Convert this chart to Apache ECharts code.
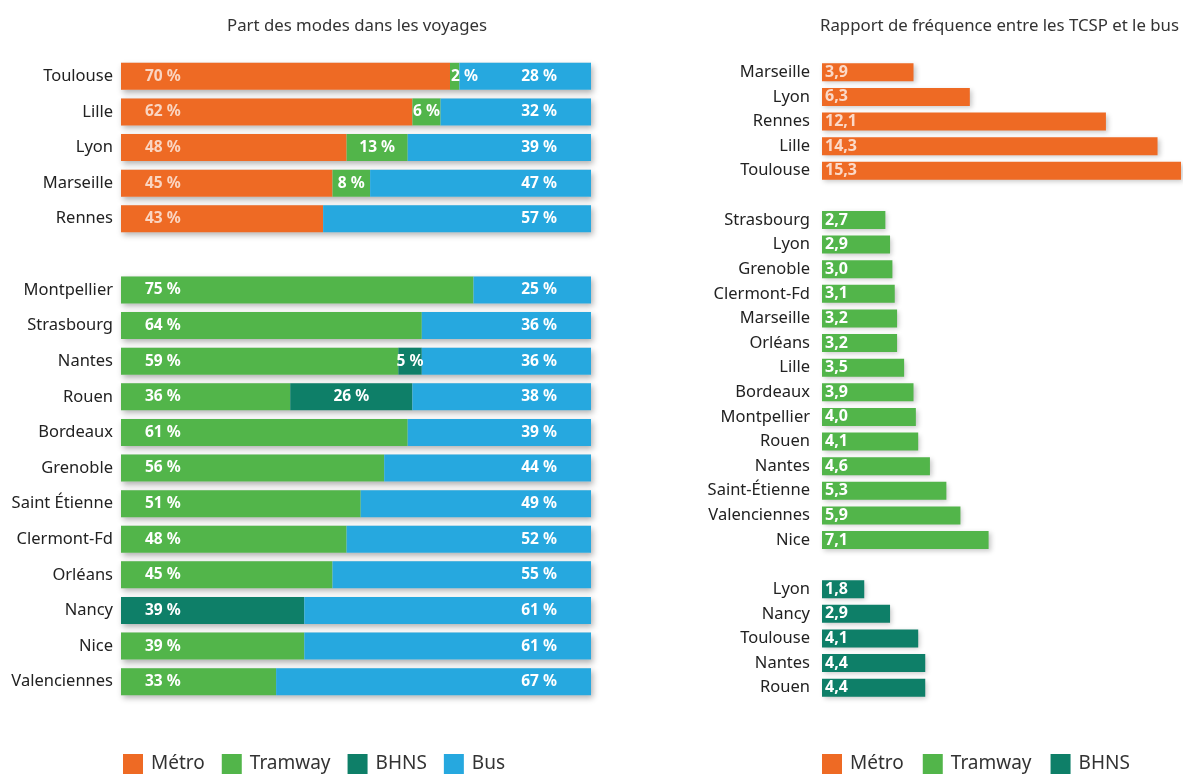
<!DOCTYPE html>
<html><head><meta charset="utf-8">
<script src="https://cdn.jsdelivr.net/npm/echarts@6/dist/echarts.min.js"></script>
<style>html,body{margin:0;padding:0;background:#fff}#c{width:1183px;height:774px}</style>
</head><body><div id="c"></div>
<script>
// ---- Left panel: share of modes in trips (%)
const leftCities = ['Toulouse','Lille','Lyon','Marseille','Rennes',' ','Montpellier','Strasbourg','Nantes','Rouen','Bordeaux','Grenoble','Saint Étienne','Clermont-Fd','Orléans','Nancy','Nice','Valenciennes'];
const shareMetro   = [70,62,48,45,43,null,null,null,null,null,null,null,null,null,null,null,null,null];
const shareTram    = [2,6,13,8,null,null,75,64,59,36,61,56,51,48,45,null,39,33];
const shareBhns    = [null,null,null,null,null,null,null,null,5,26,null,null,null,null,null,39,null,null];
const shareBus     = [28,32,39,47,57,null,25,36,36,38,39,44,49,52,55,61,61,67];

// ---- Right panel: frequency ratio TCSP / bus
const rightCities = ['Marseille','Lyon','Rennes','Lille','Toulouse',' ','Strasbourg','Lyon','Grenoble','Clermont-Fd','Marseille','Orléans','Lille','Bordeaux','Montpellier','Rouen','Nantes','Saint-Étienne','Valenciennes','Nice','  ','Lyon','Nancy','Toulouse','Nantes','Rouen'];
const freqMetro = [3.9,6.3,12.1,14.3,15.3,null,null,null,null,null,null,null,null,null,null,null,null,null,null,null,null,null,null,null,null,null];
const freqTram  = [null,null,null,null,null,null,2.7,2.9,3.0,3.1,3.2,3.2,3.5,3.9,4.0,4.1,4.6,5.3,5.9,7.1,null,null,null,null,null,null];
const freqBhns  = [null,null,null,null,null,null,null,null,null,null,null,null,null,null,null,null,null,null,null,null,null,1.8,2.9,4.1,4.4,4.4];

const legendLeft = ['Métro','Tramway','BHNS','Bus'];
const legendRight = ['Métro','Tramway','BHNS'];

const C = {metro:'#EE6A24', tram:'#52B54A', bhns:'#0E7F68', bus:'#26A8DF'};
const FONT = '"Noto Sans", "DejaVu Sans", sans-serif';

const pct = p => p.value + ' %';
const dec = p => p.value.toFixed(1).replace('.', ',');

const totals = shareBus.map((b,i) => b == null ? null : (shareMetro[i]||0)+(shareTram[i]||0)+(shareBhns[i]||0)+b);

const labelBase = {show:true, color:'#fff', fontWeight:'bold', fontSize:15.5, fontFamily:FONT};

function firstIdx(i){
  if (shareMetro[i] != null) return 'metro';
  if (shareTram[i] != null) return 'tram';
  return 'bhns';
}
function segData(arr, key){
  return arr.map((v,i) => {
    if (v == null) return null;
    const first = firstIdx(i) === key;
    let label;
    if (first) label = {position:'insideLeft', distance:24};
    else if (v < 4) label = {position:'insideLeft', distance:1};
    else label = {position:'inside'};
    return {value:v, label};
  });
}

const legendText = {fontSize:19, color:'#333', fontFamily:FONT, padding:[0,0,0,3]};

const option = {
  animation:false,
  backgroundColor:'#fff',
  title:[
    {text:'Part des modes dans les voyages', left:352, top:13, textAlign:'center',
     textStyle:{fontSize:16.8, fontWeight:'normal', color:'#333', fontFamily:FONT}},
    {text:'Rapport de fréquence entre les TCSP et le bus', left:815, top:13,
     textStyle:{fontSize:16.8, fontWeight:'normal', color:'#333', fontFamily:FONT}}
  ],
  legend:[
    {data:legendLeft, left:123, top:754, padding:0, itemWidth:20, itemHeight:20, itemGap:17, icon:'rect',
     textStyle:legendText},
    {data:legendRight, left:822, top:754, padding:0, itemWidth:20, itemHeight:20, itemGap:19, icon:'rect',
     textStyle:legendText}
  ],
  grid:[
    {left:121, width:470, top:58.5, height:641},
    {left:822, width:359, top:60, height:640}
  ],
  xAxis:[
    {type:'value', gridIndex:0, min:0, max:100, show:false},
    {type:'value', gridIndex:1, min:0, max:'dataMax', show:false}
  ],
  yAxis:[
    {type:'category', gridIndex:0, data:leftCities, inverse:true,
     axisLine:{show:false}, axisTick:{show:false},
     axisLabel:{margin:8, fontSize:16.5, color:'#222', fontFamily:FONT}},
    {type:'category', gridIndex:1, data:rightCities, inverse:true,
     axisLine:{show:false}, axisTick:{show:false},
     axisLabel:{margin:12, fontSize:16.5, color:'#222', fontFamily:FONT}}
  ],
  series:[
    {name:'shadow', type:'bar', xAxisIndex:0, yAxisIndex:0, data:totals, barWidth:27, barGap:'-100%',
     silent:true, z:1, itemStyle:{color:'#ddd', shadowBlur:6, shadowColor:'rgba(0,0,0,0.3)', shadowOffsetX:2, shadowOffsetY:3}},
    {name:'Métro', type:'bar', stack:'L', xAxisIndex:0, yAxisIndex:0, barWidth:27, z:2,
     data:segData(shareMetro,'metro'), itemStyle:{color:C.metro},
     label:Object.assign({}, labelBase, {formatter:pct, color:'rgba(255,255,255,0.72)'})},
    {name:'Tramway', type:'bar', stack:'L', xAxisIndex:0, yAxisIndex:0, barWidth:27, z:2,
     data:segData(shareTram,'tram'), itemStyle:{color:C.tram},
     label:Object.assign({}, labelBase, {formatter:pct})},
    {name:'BHNS', type:'bar', stack:'L', xAxisIndex:0, yAxisIndex:0, barWidth:27, z:2,
     data:segData(shareBhns,'bhns'), itemStyle:{color:C.bhns},
     label:Object.assign({}, labelBase, {formatter:pct})},
    {name:'Bus', type:'bar', stack:'L', xAxisIndex:0, yAxisIndex:0, barWidth:27, z:2,
     data:shareBus, itemStyle:{color:C.bus},
     label:Object.assign({}, labelBase, {formatter:pct, position:'insideRight', distance:34})},

    {name:'Métro', type:'bar', stack:'R', xAxisIndex:1, yAxisIndex:1, barWidth:18,
     data:freqMetro, itemStyle:{color:C.metro, shadowBlur:5, shadowColor:'rgba(0,0,0,0.22)', shadowOffsetX:2, shadowOffsetY:2},
     label:Object.assign({}, labelBase, {formatter:dec, position:'insideLeft', distance:3, fontSize:16, color:'rgba(255,255,255,0.75)'})},
    {name:'Tramway', type:'bar', stack:'R', xAxisIndex:1, yAxisIndex:1, barWidth:18,
     data:freqTram, itemStyle:{color:C.tram, shadowBlur:5, shadowColor:'rgba(0,0,0,0.22)', shadowOffsetX:2, shadowOffsetY:2},
     label:Object.assign({}, labelBase, {formatter:dec, position:'insideLeft', distance:3, fontSize:16})},
    {name:'BHNS', type:'bar', stack:'R', xAxisIndex:1, yAxisIndex:1, barWidth:18,
     data:freqBhns, itemStyle:{color:C.bhns, shadowBlur:5, shadowColor:'rgba(0,0,0,0.22)', shadowOffsetX:2, shadowOffsetY:2},
     label:Object.assign({}, labelBase, {formatter:dec, position:'insideLeft', distance:3, fontSize:16})}
  ]
};
const chart = echarts.init(document.getElementById('c'), null, {renderer:'canvas'});
chart.setOption(option);
</script></body></html>
